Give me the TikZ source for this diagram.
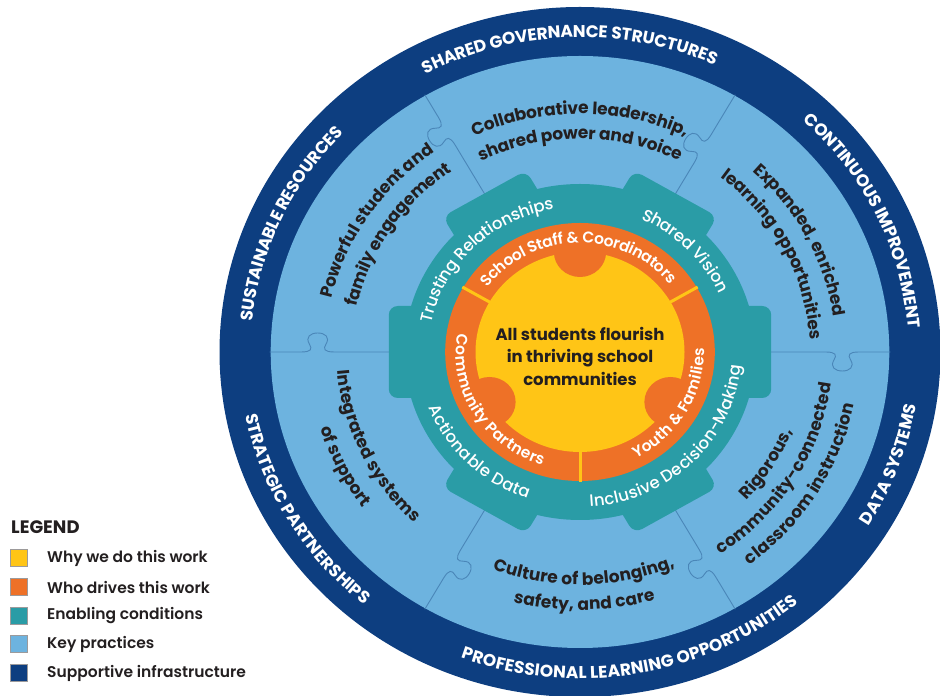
\documentclass[tikz,border=0pt]{standalone}
\usepackage{fontspec}
\setmainfont{Poppins}
\newfontfamily\popsb{Poppins SemiBold}
\newfontfamily\popmd{Poppins Medium}
\usetikzlibrary{decorations.text,calc}
\definecolor{navy}{HTML}{0D3E80}
\definecolor{lblue}{HTML}{6DB3DF}
\definecolor{gteal}{HTML}{2A9CA6}
\definecolor{orng}{HTML}{EE7127}
\definecolor{yel}{HTML}{FFC516}
\definecolor{ink}{HTML}{231F20}
\definecolor{pline}{HTML}{4A86B8}
% clockwise arc text (letter tops outward)
\newcommand\cwtext[5]{\path[decorate,decoration={text along path,text align=center,raise=#3,text={|#4|#5}}]
  ($(C)+({#1+85}:{1.045*#2pt} and {#2pt})$) arc[start angle={#1+85}, end angle={#1-85}, x radius={1.045*#2pt}, y radius={#2pt}];}
% counter-clockwise arc text (letter tops inward)
\newcommand\ccwtext[5]{\path[decorate,decoration={text along path,text align=center,raise=#3,text={|#4|#5}}]
  ($(C)+({#1-85}:{1.045*#2pt} and {#2pt})$) arc[start angle={#1-85}, end angle={#1+85}, x radius={1.045*#2pt}, y radius={#2pt}];}
\newcommand\pzl[3]{\draw[pline,line width=0.9pt,rotate=#1] (170,0) -- ({#2-16},0) .. controls ({#2-6},0) and ({#2-5},{3*#3}) .. ({#2-8},{8*#3}) .. controls ({#2-12},{15*#3}) and ({#2-7},{19*#3}) .. (#2,{19*#3}) .. controls ({#2+7},{19*#3}) and ({#2+12},{15*#3}) .. ({#2+8},{8*#3}) .. controls ({#2+5},{3*#3}) and ({#2+6},0) .. ({#2+16},0) -- (297,0);}
\newcommand\navyfmt{\bfseries\fontsize{17}{17}\selectfont\color{white}}
\newcommand\keyfmt{\bfseries\fontsize{17}{17}\selectfont\color{ink}}
\newcommand\tealfmt{\popmd\fontsize{16.5}{16.5}\selectfont\color{white}}
\newcommand\orfmt{\popsb\fontsize{15.5}{15.5}\selectfont\color{white}}
\tikzset{legbox/.style={draw=ink!45,line width=0.5pt,minimum size=17pt,inner sep=0pt},
  legtext/.style={anchor=west,inner sep=0pt,text=ink,font=\popsb\fontsize{15.5}{15.5}\selectfont}}
\begin{document}
\begin{tikzpicture}[x=1pt,y=1pt]
\useasboundingbox (0,0) rectangle (940,696);
\coordinate (C) at (580,344);
\fill[navy] (C) ellipse[x radius=360.5pt, y radius=345pt];
\fill[lblue] (C) ellipse[x radius=309.3pt, y radius=296pt];
\begin{scope}[shift={(C)},xscale=1.045]
  \pzl{0}{251}{-1}
  \pzl{180}{251}{-1}
  \pzl{60}{235}{1}
  \pzl{120}{255}{1}
  \pzl{240}{245}{1}
  \pzl{300}{244}{-1}
  \fill[gteal] (0,0) circle[radius=168pt];
  \foreach \a in {0,60,...,300}
    \fill[gteal,rotate=\a,rounded corners=9pt] (150,-46) rectangle (183,46);
  \fill[orng] (0,0) circle[radius=129pt];
  \fill[yel] (0,0) circle[radius=100pt];
  \foreach \a in {90,210,330} \fill[orng] (\a:100) circle[radius=25pt];
  \foreach \a in {30,150,270} \draw[yel,line width=3pt] (\a:99) -- (\a:130);
\end{scope}
% supportive infrastructure
\cwtext{92}{320.5}{-6pt}{\navyfmt}{SHARED GOVERNANCE STRUCTURES}
\cwtext{25}{320.5}{-6pt}{\navyfmt}{CONTINUOUS IMPROVEMENT}
\ccwtext{-20}{320.5}{-6pt}{\navyfmt}{DATA SYSTEMS}
\ccwtext{-80}{320.5}{-6pt}{\navyfmt}{PROFESSIONAL LEARNING OPPORTUNITIES}
\ccwtext{210}{320.5}{-6pt}{\navyfmt}{STRATEGIC PARTNERSHIPS}
\cwtext{156}{320.5}{-6pt}{\navyfmt}{SUSTAINABLE RESOURCES}
% key practices
\cwtext{90}{243}{-5pt}{\keyfmt}{Collaborative leadership,}
\cwtext{90}{218}{-5pt}{\keyfmt}{shared power and voice}
\cwtext{27}{250}{-5pt}{\keyfmt}{Expanded, enriched}
\cwtext{27}{225}{-5pt}{\keyfmt}{learning opportunities}
\ccwtext{-31}{213}{-5pt}{\keyfmt}{Rigorous,}
\ccwtext{-31}{238}{-5pt}{\keyfmt}{community-connected}
\ccwtext{-31}{263}{-5pt}{\keyfmt}{classroom instruction}
\ccwtext{-89}{228}{-5pt}{\keyfmt}{Culture of belonging,}
\ccwtext{-89}{253}{-5pt}{\keyfmt}{safety, and care}
\ccwtext{205}{228}{-5pt}{\keyfmt}{Integrated systems}
\ccwtext{206}{255}{-5pt}{\keyfmt}{of support}
\cwtext{147}{248}{-5pt}{\keyfmt}{Powerful student and}
\cwtext{147}{223}{-5pt}{\keyfmt}{family engagement}
% enabling conditions
\cwtext{135}{150}{-5pt}{\tealfmt}{Trusting Relationships}
\cwtext{44}{150}{-5pt}{\tealfmt}{Shared Vision}
\ccwtext{-45}{150}{-5pt}{\tealfmt}{Inclusive Decision-Making}
\ccwtext{225}{150}{-5pt}{\tealfmt}{Actionable Data}
% who drives
\cwtext{91}{114}{-5pt}{\orfmt}{School Staff {\&} Coordinators}
\ccwtext{211}{114}{-5pt}{\orfmt}{Community Partners}
\ccwtext{-30}{114}{-5pt}{\orfmt}{Youth {\&} Families}
% core
\node[align=center,text=ink,font=\bfseries\fontsize{16.5}{22.5}\selectfont] (core) at (580,340)
  {All students flourish\\in thriving school\\communities};
% legend
\node[anchor=west,inner sep=0pt,text=ink,font=\bfseries\fontsize{18}{18}\selectfont] (leg) at (11,169) {LEGEND};
\foreach \c/\y/\t [count=\i] in {yel/558/Why we do this work,orng/587/Who drives this work,gteal/616/Enabling conditions,lblue/644/Key practices,navy/673/Supportive infrastructure}{
  \node[legbox,fill=\c] (b\i) at (18.5,{696-\y}) {};
  \node[legtext] (t\i) at (47,{696-\y}) {\t};
}
\end{tikzpicture}
\end{document}
